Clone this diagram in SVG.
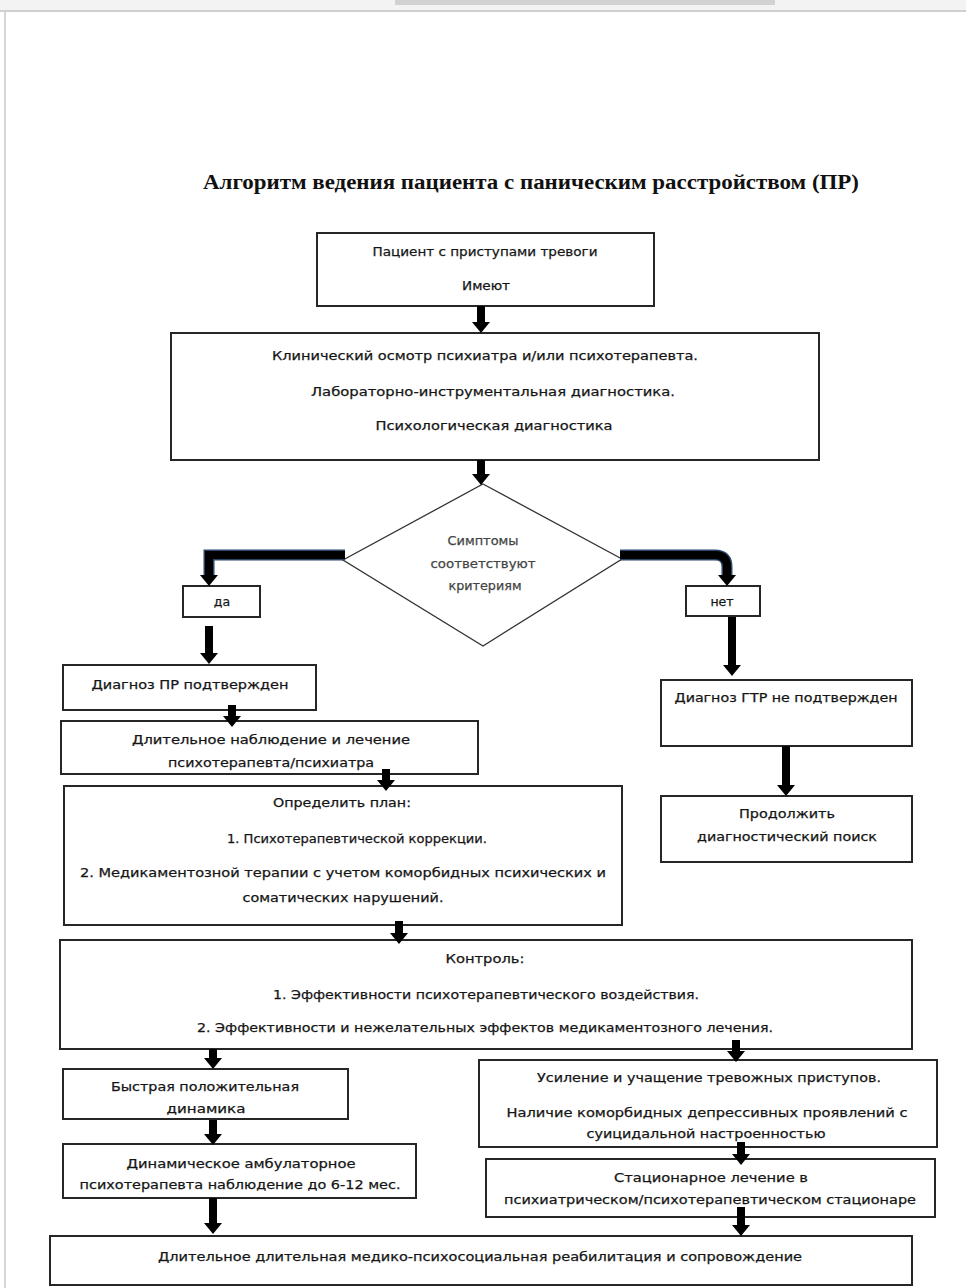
<svg xmlns="http://www.w3.org/2000/svg" width="966" height="1288" viewBox="0 0 966 1288">
<style>
.box{fill:#fff;stroke:#262626;stroke-width:2}
.dia{fill:#fff;stroke:#333;stroke-width:1.3}
.t{font-family:"DejaVu Sans","Liberation Sans",sans-serif;font-size:12.5px;fill:#151515;stroke:#151515;stroke-width:0.25;text-anchor:middle}
.g{fill:#444;stroke:#444}
.title{font-family:"Liberation Serif","Times New Roman",serif;font-weight:bold;font-size:20px;fill:#111;text-anchor:middle}
.arr{stroke:#000;stroke-width:8;fill:none}
.el{stroke:#2b4566;stroke-width:11;fill:none}
.el2{stroke:#000;stroke-width:8;fill:none}
</style>
<defs>
<marker id="ah" viewBox="0 -9 11 18" refX="0" refY="0" markerWidth="11" markerHeight="18" markerUnits="userSpaceOnUse" orient="auto">
<path d="M0,-9 L11,0 L0,9 z" fill="#000"/>
</marker>
</defs>
<rect x="0" y="0" width="966" height="1288" fill="#fff"/>
<rect x="0" y="0" width="966" height="11" fill="#f3f3f3"/>
<rect x="395" y="0" width="380" height="5" fill="#d2d2d2"/>
<rect x="0" y="10" width="966" height="2" fill="#cfcfcf"/>
<rect x="4" y="11" width="2" height="1277" fill="#d5d5d5"/>

<text class="title" x="531" y="189" textLength="656" lengthAdjust="spacingAndGlyphs">Алгоритм ведения пациента с паническим расстройством (ПР)</text>

<g id="n-patient">
<rect class="box" x="317" y="233" width="337" height="73"/>
<text class="t" x="485" y="256" textLength="225" lengthAdjust="spacingAndGlyphs">Пациент с приступами тревоги</text>
<text class="t" x="486" y="290" textLength="48" lengthAdjust="spacingAndGlyphs">Имеют</text>
</g>

<g id="n-exam">
<rect class="box" x="171" y="333" width="648" height="127"/>
<text class="t" x="485" y="360" textLength="426" lengthAdjust="spacingAndGlyphs">Клинический осмотр психиатра и/или психотерапевта.</text>
<text class="t" x="493" y="396" textLength="364" lengthAdjust="spacingAndGlyphs">Лабораторно-инструментальная диагностика.</text>
<text class="t" x="494" y="430" textLength="237" lengthAdjust="spacingAndGlyphs">Психологическая диагностика</text>
</g>

<g id="n-decision">
<polygon class="dia" points="483,484 622,559 483,646 343,560"/>
<text class="t g" x="483" y="545" textLength="71" lengthAdjust="spacingAndGlyphs">Симптомы</text>
<text class="t g" x="483" y="568" textLength="105" lengthAdjust="spacingAndGlyphs">соответствуют</text>
<text class="t g" x="485" y="590" textLength="73" lengthAdjust="spacingAndGlyphs">критериям</text>
</g>

<g id="n-yes">
<rect class="box" x="183" y="586" width="77" height="31"/>
<text class="t" x="222" y="606">да</text>
</g>

<g id="n-no">
<rect class="box" x="686" y="586" width="74" height="30"/>
<text class="t" x="722" y="606">нет</text>
</g>

<g id="n-pr-confirmed">
<rect class="box" x="63" y="665" width="253" height="45"/>
<text class="t" x="190" y="689" textLength="197" lengthAdjust="spacingAndGlyphs">Диагноз ПР подтвержден</text>
</g>

<g id="n-long-obs">
<rect class="box" x="61" y="721" width="417" height="53"/>
<text class="t" x="271" y="744" textLength="278" lengthAdjust="spacingAndGlyphs">Длительное наблюдение и лечение</text>
<text class="t" x="271" y="767" textLength="206" lengthAdjust="spacingAndGlyphs">психотерапевта/психиатра</text>
</g>

<g id="n-plan">
<rect class="box" x="64" y="786" width="558" height="139"/>
<text class="t" x="342" y="807" textLength="138" lengthAdjust="spacingAndGlyphs">Определить план:</text>
<text class="t" x="357" y="843" textLength="260" lengthAdjust="spacingAndGlyphs">1. Психотерапевтической коррекции.</text>
<text class="t" x="343" y="877" textLength="526" lengthAdjust="spacingAndGlyphs">2. Медикаментозной терапии с учетом коморбидных психических и</text>
<text class="t" x="343" y="902" textLength="201" lengthAdjust="spacingAndGlyphs">соматических нарушений.</text>
</g>

<g id="n-gtr">
<rect class="box" x="661" y="680" width="251" height="66"/>
<text class="t" x="786" y="702" textLength="223" lengthAdjust="spacingAndGlyphs">Диагноз ГТР не подтвержден</text>
</g>

<g id="n-continue">
<rect class="box" x="661" y="796" width="251" height="66"/>
<text class="t" x="787" y="818" textLength="96" lengthAdjust="spacingAndGlyphs">Продолжить</text>
<text class="t" x="787" y="841" textLength="180" lengthAdjust="spacingAndGlyphs">диагностический поиск</text>
</g>

<g id="n-control">
<rect class="box" x="60" y="940" width="852" height="109"/>
<text class="t" x="485" y="963" textLength="79" lengthAdjust="spacingAndGlyphs">Контроль:</text>
<text class="t" x="486" y="999" textLength="426" lengthAdjust="spacingAndGlyphs">1. Эффективности психотерапевтического воздействия.</text>
<text class="t" x="485" y="1032" textLength="576" lengthAdjust="spacingAndGlyphs">2. Эффективности и нежелательных эффектов медикаментозного лечения.</text>
</g>

<g id="n-fast">
<rect class="box" x="63" y="1069" width="285" height="50"/>
<text class="t" x="205" y="1091" textLength="188" lengthAdjust="spacingAndGlyphs">Быстрая положительная</text>
<text class="t" x="206" y="1113" textLength="79" lengthAdjust="spacingAndGlyphs">динамика</text>
</g>

<g id="n-ambul">
<rect class="box" x="63" y="1144" width="353" height="54"/>
<text class="t" x="241" y="1168" textLength="229" lengthAdjust="spacingAndGlyphs">Динамическое амбулаторное</text>
<text class="t" x="240" y="1189" textLength="321" lengthAdjust="spacingAndGlyphs">психотерапевта наблюдение до 6-12 мес.</text>
</g>

<g id="n-worse">
<rect class="box" x="479" y="1060" width="458" height="87"/>
<text class="t" x="709" y="1082" textLength="344" lengthAdjust="spacingAndGlyphs">Усиление и учащение тревожных приступов.</text>
<text class="t" x="707" y="1117" textLength="401" lengthAdjust="spacingAndGlyphs">Наличие коморбидных депрессивных проявлений с</text>
<text class="t" x="706" y="1138" textLength="239" lengthAdjust="spacingAndGlyphs">суицидальной настроенностью</text>
</g>

<g id="n-hospital">
<rect class="box" x="486" y="1159" width="449" height="58"/>
<text class="t" x="711" y="1182" textLength="194" lengthAdjust="spacingAndGlyphs">Стационарное лечение в</text>
<text class="t" x="710" y="1204" textLength="412" lengthAdjust="spacingAndGlyphs">психиатрическом/психотерапевтическом стационаре</text>
</g>

<g id="n-rehab">
<rect class="box" x="50" y="1236" width="862" height="49"/>
<text class="t" x="480" y="1261" textLength="644" lengthAdjust="spacingAndGlyphs">Длительное длительная медико-психосоциальная реабилитация и сопровождение</text>
</g>

<g id="connectors">
<line class="arr" x1="481" y1="306" x2="481" y2="322" marker-end="url(#ah)"/>
<line class="arr" x1="481" y1="460" x2="481" y2="474" marker-end="url(#ah)"/>
<path class="el" d="M345,555 H209 V575"/>
<path class="el2" d="M345,555 H209 V575" marker-end="url(#ah)"/>
<path class="el" d="M620,555 H715 Q727,555 727,567 V575"/>
<path class="el2" d="M620,555 H715 Q727,555 727,567 V575" marker-end="url(#ah)"/>
<line class="arr" x1="209" y1="626" x2="209" y2="653" marker-end="url(#ah)"/>
<line class="arr" x1="732" y1="617" x2="732" y2="665" marker-end="url(#ah)"/>
<line class="arr" x1="232" y1="705" x2="232" y2="716" marker-end="url(#ah)"/>
<line class="arr" x1="386" y1="769" x2="386" y2="780" marker-end="url(#ah)"/>
<line class="arr" x1="786" y1="746" x2="786" y2="785" marker-end="url(#ah)"/>
<line class="arr" x1="399" y1="921" x2="399" y2="933" marker-end="url(#ah)"/>
<line class="arr" x1="213" y1="1049" x2="213" y2="1058" marker-end="url(#ah)"/>
<line class="arr" x1="736" y1="1040" x2="736" y2="1051" marker-end="url(#ah)"/>
<line class="arr" x1="213" y1="1120" x2="213" y2="1134" marker-end="url(#ah)"/>
<line class="arr" x1="741" y1="1142" x2="741" y2="1154" marker-end="url(#ah)"/>
<line class="arr" x1="213" y1="1198" x2="213" y2="1223" marker-end="url(#ah)"/>
<line class="arr" x1="741" y1="1207" x2="741" y2="1225" marker-end="url(#ah)"/>
</g>
</svg>
